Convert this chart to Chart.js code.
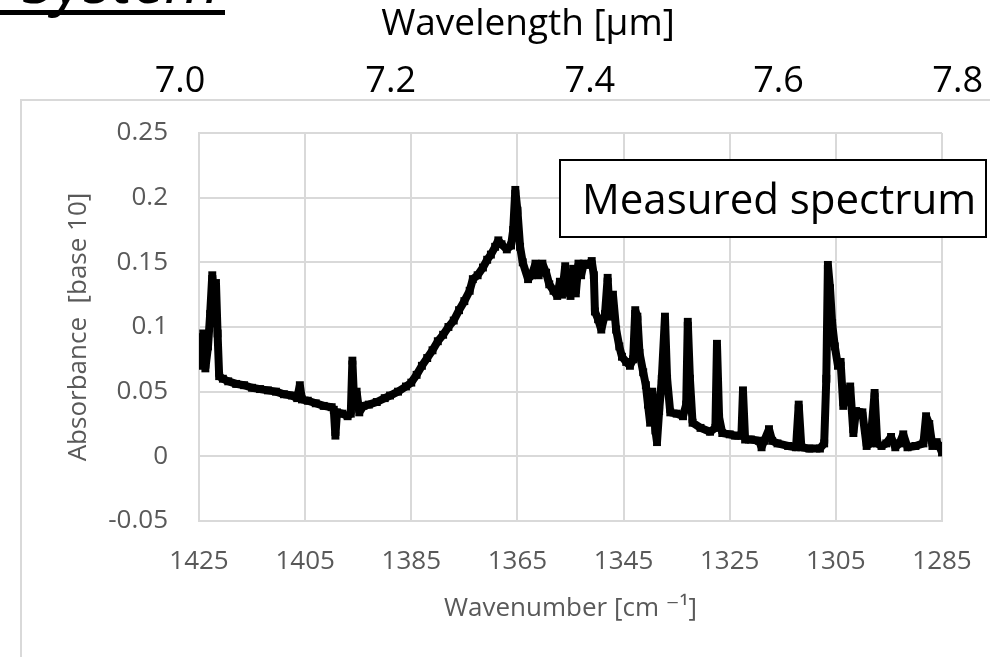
<!DOCTYPE html>
<html><head><meta charset="utf-8">
<script src="https://cdn.jsdelivr.net/npm/chart.js@4.4.1/dist/chart.umd.min.js"></script>
<style>html,body{margin:0;padding:0;background:#fff;overflow:hidden}#wrap{width:990px;height:657px;position:relative}</style>
</head><body><div id="wrap"><canvas id="c" width="990" height="657"></canvas></div>
<script>
// ---- data ----
const wavenumbers = [
1425.0,1424.6,1424.2,1423.8,1423.3,1422.9,1422.5,1422.1,1421.8,1421.5,1421.2,1420.5,1419.5,1418.0,1416.5,1415.0,1413.5,1412.0,1410.5,1409.0,
1407.5,1406.5,1406.0,1405.6,1404.5,1403.0,1401.5,1400.0,1399.6,1399.3,1399.0,1398.0,1397.0,1396.4,1396.1,1395.8,1395.3,1394.8,1394.0,1393.0,
1391.5,1390.0,1389.0,1387.5,1386.0,1385.0,1384.0,1383.0,1382.0,1381.0,1380.0,1379.0,1378.0,1377.0,1376.0,1375.0,1374.0,1373.4,1372.5,1371.5,
1370.7,1370.0,1369.2,1368.6,1368.0,1367.0,1366.2,1365.8,1365.4,1365.0,1364.5,1364.0,1363.0,1362.3,1361.6,1361.0,1360.3,1359.6,1359.0,1358.2,
1357.5,1357.0,1356.6,1356.0,1355.6,1355.0,1354.5,1354.0,1353.5,1353.0,1352.5,1351.8,1351.0,1350.6,1350.4,1349.8,1349.2,1348.5,1348.0,1347.6,
1347.0,1346.4,1345.8,1345.3,1344.5,1343.8,1343.2,1342.8,1342.4,1342.0,1341.3,1340.8,1340.4,1340.0,1339.6,1339.0,1338.7,1338.3,1337.8,1337.2,
1336.8,1336.2,1335.0,1333.8,1333.2,1332.9,1332.5,1332.0,1330.5,1328.7,1327.7,1327.4,1327.0,1326.4,1325.0,1324.0,1322.8,1322.5,1322.1,1321.0,
1319.5,1319.0,1318.5,1317.6,1317.0,1316.0,1314.0,1312.5,1312.0,1311.5,1310.0,1308.0,1307.2,1306.8,1306.5,1306.1,1305.7,1305.2,1304.6,1304.1,
1303.6,1303.0,1302.3,1301.7,1301.2,1300.0,1299.2,1298.5,1297.7,1297.2,1296.4,1295.5,1294.6,1293.8,1293.0,1292.3,1291.5,1290.0,1288.5,1288.0,
1287.4,1286.8,1286.0,1285.5,1285.0];
const absorbance = [
0.092,0.070,0.095,0.068,0.085,0.110,0.140,0.120,0.134,0.095,0.062,0.060,0.058,0.056,0.055,0.053,0.052,0.051,0.050,0.048,
0.047,0.045,0.055,0.044,0.043,0.041,0.039,0.038,0.036,0.016,0.034,0.033,0.031,0.033,0.074,0.045,0.050,0.034,0.039,0.040,
0.042,0.045,0.047,0.050,0.054,0.057,0.063,0.070,0.076,0.082,0.089,0.094,0.100,0.105,0.113,0.120,0.128,0.137,0.140,0.146,
0.152,0.156,0.162,0.167,0.164,0.160,0.163,0.175,0.206,0.190,0.162,0.150,0.137,0.140,0.149,0.140,0.149,0.142,0.133,0.128,
0.124,0.135,0.125,0.147,0.128,0.124,0.145,0.126,0.149,0.140,0.149,0.148,0.151,0.140,0.112,0.106,0.098,0.110,0.138,0.108,
0.125,0.098,0.085,0.077,0.073,0.070,0.075,0.113,0.108,0.080,0.065,0.055,0.040,0.026,0.050,0.020,0.011,0.035,0.060,0.108,
0.060,0.034,0.033,0.031,0.040,0.104,0.060,0.026,0.022,0.019,0.022,0.087,0.030,0.018,0.017,0.016,0.016,0.051,0.013,0.013,
0.012,0.007,0.012,0.021,0.012,0.010,0.008,0.007,0.040,0.007,0.006,0.006,0.010,0.060,0.148,0.130,0.103,0.085,0.070,0.073,
0.039,0.050,0.054,0.018,0.035,0.034,0.008,0.010,0.049,0.010,0.008,0.010,0.015,0.007,0.010,0.017,0.007,0.008,0.010,0.031,
0.025,0.008,0.011,0.008,0.003];
const xTickValues = [1425,1405,1385,1365,1345,1325,1305,1285];
const yTickValues = [-0.05,0,0.05,0.1,0.15,0.2,0.25];
const wavelengthTicks = [7.0,7.2,7.4,7.6,7.8];
const xTitle = 'Wavenumber [cm \u207B\u00B9]';
const yTitle = 'Absorbance  [base 10]';
const topTitle = 'Wavelength [\u00B5m]';
const boxLabel = 'Measured spectrum';
const headerText = 'System';

const points = wavenumbers.map((w, i) => ({x: w, y: absorbance[i]}));

const FONT = "'Open Sans', 'DejaVu Sans', sans-serif";
Chart.defaults.font.family = FONT;
const GRID = '#d9d9d9';
const TXT = '#595959';

const decor = {
  id: 'decor',
  beforeDraw(chart) {
    const ctx = chart.ctx;
    ctx.save();
    ctx.fillStyle = '#fff';
    ctx.fillRect(0, 0, chart.width, chart.height);
    // outer chart frame
    ctx.strokeStyle = GRID;
    ctx.lineWidth = 2;
    ctx.strokeRect(21, 100, 1100, 700);
    // cropped header
    ctx.fillStyle = '#000';
    ctx.font = "italic 64px " + FONT;
    ctx.textAlign = 'right';
    ctx.textBaseline = 'alphabetic';
    ctx.fillText(headerText, 220, 3);
    ctx.fillRect(0, 10, 225, 5);
    // top axis title
    ctx.font = "37px " + FONT;
    ctx.textAlign = 'center';
    ctx.textBaseline = 'middle';
    ctx.fillText(topTitle, 528, 24);
    ctx.restore();
  },
  afterDraw(chart) {
    const ctx = chart.ctx;
    ctx.save();
    ctx.fillStyle = '#fff';
    ctx.fillRect(560, 160, 426, 77);
    ctx.strokeStyle = '#000';
    ctx.lineWidth = 2;
    ctx.strokeRect(560, 160, 426, 77);
    ctx.fillStyle = '#000';
    ctx.font = "42px " + FONT;
    ctx.textAlign = 'left';
    ctx.textBaseline = 'alphabetic';
    ctx.fillText(boxLabel, 582, 214);
    ctx.restore();
  }
};

new Chart(document.getElementById('c'), {
  type: 'scatter',
  data: { datasets: [{
    data: points,
    showLine: true,
    borderColor: '#000',
    backgroundColor: '#000',
    borderWidth: 8,
    borderJoinStyle: 'bevel',
    pointStyle: 'rect',
    pointRadius: 5.6,
    pointBorderWidth: 0,
    tension: 0
  }]},
  options: {
    responsive: false,
    animation: false,
    layout: { padding: { left: 22, right: 48, top: 0, bottom: 0 } },
    plugins: { legend: { display: false }, tooltip: { enabled: false } },
    scales: {
      x: {
        type: 'linear', position: 'bottom', reverse: true, min: 1285, max: 1425,
        afterBuildTicks: s => { s.ticks = xTickValues.map(v => ({value: v})); },
        afterFit: s => { s.height = 136; s.paddingLeft = 0; s.paddingRight = 0; },
        grid: { color: GRID, lineWidth: 2, drawTicks: false },
        border: { color: GRID, width: 2 },
        ticks: { autoSkip: false, maxRotation: 0, padding: 25, color: TXT, font: { size: 26 },
                 callback: v => String(v) },
        title: { display: true, text: xTitle, color: TXT, font: { size: 26 }, padding: { top: 0, bottom: 33 } }
      },
      x2: {
        type: 'linear', position: 'top', reverse: true, min: 1285, max: 1425,
        afterBuildTicks: s => { s.ticks = wavelengthTicks.map(w => ({value: 10000 / w})); },
        afterFit: s => { s.height = 133; s.paddingLeft = 0; s.paddingRight = 0; },
        grid: { display: false, drawTicks: false },
        border: { display: false },
        ticks: { autoSkip: false, maxRotation: 0, padding: 30, color: '#000', font: { size: 36 },
                 callback: v => (10000 / v).toFixed(1) },
        title: { display: false }
      },
      y: {
        type: 'linear', position: 'left', min: -0.05, max: 0.25,
        afterBuildTicks: s => { s.ticks = yTickValues.map(v => ({value: v})); },
        afterFit: s => { s.width = 177; s.paddingTop = 0; s.paddingBottom = 0; },
        grid: { color: GRID, lineWidth: 2, drawTicks: false },
        border: { color: GRID, width: 2 },
        ticks: { autoSkip: false, padding: 31, color: TXT, font: { size: 26 },
                 callback: v => String(+v.toFixed(2)) },
        title: { display: true, text: yTitle, color: TXT, font: { size: 26 }, padding: { top: 41, bottom: 0 } }
      }
    }
  },
  plugins: [decor]
});
</script>
</body></html>
